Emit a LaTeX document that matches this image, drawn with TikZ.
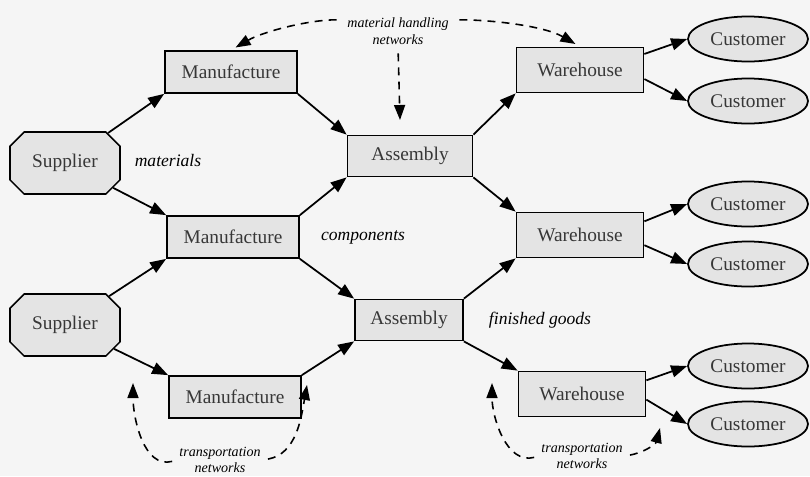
\documentclass[tikz,border=0pt]{standalone}
\usepackage{fontspec}
\setmainfont{Liberation Serif}
\usetikzlibrary{arrows.meta,shapes.geometric,shapes.misc}
\definecolor{paper}{RGB}{245,245,245}
\definecolor{boxgray}{RGB}{228,228,228}
\definecolor{inkgray}{RGB}{55,55,55}
\newcommand{\netlabel}[1]{\fontsize{8}{9.5}\selectfont\itshape #1}

\begin{document}
\begin{tikzpicture}[
    supplier/.style={chamfered rectangle,chamfered rectangle xsep=0.4cm,draw,line width=0.9pt,
      fill=boxgray,minimum width=2.2cm,minimum height=1.24cm,inner sep=0pt,
      text=inkgray,font=\fontsize{11}{13}\selectfont},
    plant/.style={rectangle,draw,line width=1pt,fill=boxgray,minimum width=2.64cm,
      minimum height=0.84cm,text=inkgray,font=\fontsize{11}{13}\selectfont},
    assy/.style={rectangle,draw,line width=1pt,fill=boxgray,minimum height=0.82cm,
      text=inkgray,font=\fontsize{11}{13}\selectfont},
    store/.style={rectangle,draw,line width=1pt,fill=boxgray,minimum width=2.54cm,
      minimum height=0.9cm,text=inkgray,font=\fontsize{11}{13}\selectfont},
    customer/.style={ellipse,draw,line width=1pt,fill=boxgray,minimum width=2.4cm,
      minimum height=0.9cm,inner sep=0pt,text=inkgray,font=\fontsize{11}{13}\selectfont},
    flowlabel/.style={font=\fontsize{10}{12}\selectfont\itshape},
    netnote/.style={align=center,font=\netlabel{},inner sep=1pt},
    flow/.style={-{Triangle[length=3.2mm,width=2.4mm]},line width=1pt},
    net/.style={-{Triangle[length=3mm,width=2.2mm]},line width=0.9pt,dash pattern=on 4.5pt off 3.5pt}
  ]
    \fill[paper] (0,0) rectangle (16.2,-9.52);
    \useasboundingbox (0,0) rectangle (16.2,-9.52);

    \node[supplier] (s1) at (1.30,-3.26) {Supplier};
    \node[supplier] (s2) at (1.30,-6.50) {Supplier};

    \node[plant] (m1) at (4.62,-1.44) {Manufacture};
    \node[plant] (m2) at (4.66,-4.74) {Manufacture};
    \node[plant] (m3) at (4.70,-7.94) {Manufacture};

    \node[assy,minimum width=2.5cm] (a1) at (8.20,-3.12) {Assembly};
    \node[assy,minimum width=2.16cm] (a2) at (8.18,-6.40) {Assembly};

    \node[store] (w1) at (11.60,-1.40) {Warehouse};
    \node[store] (w2) at (11.60,-4.70) {Warehouse};
    \node[store] (w3) at (11.64,-7.88) {Warehouse};

    \node[customer] (c1) at (14.96,-0.78) {Customer};
    \node[customer] (c2) at (14.96,-2.02) {Customer};
    \node[customer] (c3) at (14.96,-4.08) {Customer};
    \node[customer] (c4) at (14.96,-5.28) {Customer};
    \node[customer] (c5) at (14.96,-7.32) {Customer};
    \node[customer] (c6) at (14.96,-8.48) {Customer};

    \node[flowlabel] (mat) at (3.36,-3.20) {materials};
    \node[flowlabel] (comp) at (7.26,-4.74) {components};
    \node[flowlabel] (fin) at (10.80,-6.40) {finished goods};

    \node[netnote] (mhn) at (7.96,-0.62) {material handling\\networks};
    \node[netnote] (tn1) at (4.40,-9.20) {transportation\\networks};
    \node[netnote] (tn2) at (11.64,-9.12) {transportation\\networks};

    \coordinate (mv) at (8.00,-2.40);
    \coordinate (tl1) at (2.66,-7.66);
    \coordinate (tr1) at (6.14,-7.70);
    \coordinate (tl2) at (9.84,-7.66);
    \coordinate (tr2) at (13.20,-8.56);

    \draw[flow] (s1) -- (m1.south west);
    \draw[flow] (s1) -- (m2.north west);
    \draw[flow] (s2) -- (m2.south west);
    \draw[flow] (s2) -- (m3.north west);
    \draw[flow] (m1.south east) -- (a1.north west);
    \draw[flow] (m2.north east) -- (a1.south west);
    \draw[flow] (m2.south east) -- (a2.north west);
    \draw[flow] (m3.north east) -- (a2.south west);
    \draw[flow] (a1.north east) -- (w1.south west);
    \draw[flow] (a1.south east) -- (w2.north west);
    \draw[flow] (a2.north east) -- (w2.south west);
    \draw[flow] (a2.south east) -- (w3.north west);
    \draw[flow] (w1.14) -- (c1.west);
    \draw[flow] (w1.-8) -- (c2.west);
    \draw[flow] (w2.12) -- (c3.west);
    \draw[flow] (w2.-9) -- (c4.west);
    \draw[flow] (w3.12) -- (c5.west);
    \draw[flow] (w3.-5) -- (c6.west);

    \draw[net,shorten <=5pt,shorten >=3pt] (mhn.168) to[out=180,in=30,looseness=0.8] (m1.north);
    \draw[net,shorten <=5pt,shorten >=3pt] (mhn.12) to[out=0,in=150,looseness=0.8] (w1.north);
    \draw[net,shorten <=4pt] (mhn.south) -- (mv);
    \draw[net,shorten <=3pt] (tn1.west) to[out=195,in=-90] (tl1);
    \draw[net,shorten <=3pt] (tn1.east) to[out=10,in=-100] (tr1);
    \draw[net,shorten <=3pt] (tn2.west) to[out=195,in=-90] (tl2);
    \draw[net,shorten <=3pt] (tn2.east) to[out=10,in=-105] (tr2);
  \end{tikzpicture}
\end{document}
